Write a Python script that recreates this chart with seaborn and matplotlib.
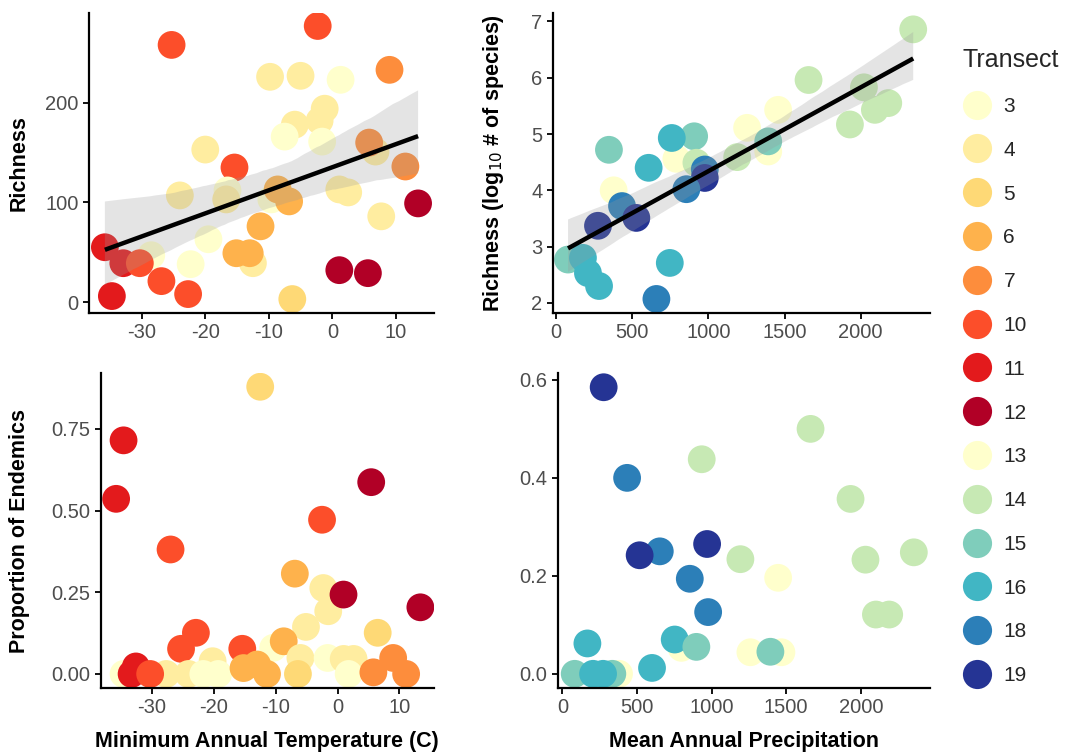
import matplotlib
matplotlib.use("Agg")
import matplotlib.pyplot as plt
import seaborn as sns
import pandas as pd
from matplotlib.lines import Line2D

# ---------------- data ----------------
transects = [3, 4, 5, 6, 7, 10, 11, 12, 13, 14, 15, 16, 18, 19]
transect_colors = ["#FFFFCC", "#FFEDA0", "#FED976", "#FEB24C", "#FD8D3C", "#FC4E2A",
                   "#E31A1C", "#B10026", "#FFFFCC", "#C7E9B4", "#7FCDBB", "#41B6C4",
                   "#2C7FB8", "#253494"]

# Panel A: minimum annual temperature vs richness
tempA = [-25.3, -2.3, -9.8, -5.0, 1.3, 9.0, -1.2, -2.0, -5.9, -7.5, -1.6, 6.8, 5.8, 11.5,
         -20.0, -15.4, -24.0, -16.5, -16.7, -9.6, -8.6, -6.8, 1.1, 2.5, 7.7, 13.5, -11.3,
         -19.5, -12.5, -15.1, -13.0, -22.3, -35.8, -28.5, -32.9, -30.3, -26.9, -22.7,
         -34.7, -6.3, 1.1, 5.6]
richA = [258, 277, 226, 227, 223, 233, 194, 182, 178, 166, 161, 151, 160, 136,
         153, 135, 107, 112, 103, 103, 113, 101, 113, 110, 86, 99, 76,
         63, 39, 49, 49, 38, 55, 47, 39, 39, 21, 8,
         6, 3, 32, 29]
transA = [10, 10, 4, 4, 3, 7, 4, 4, 4, 3, 3, 4, 7, 7,
          4, 10, 4, 3, 4, 3, 6, 6, 4, 4, 4, 12, 6,
          3, 4, 6, 6, 3, 11, 3, 11, 10, 10, 10,
          11, 5, 12, 12]

# Panel C: minimum annual temperature vs proportion of endemics
tempC = [-12.5, -34.6, -35.8, -27.0, 5.45, -2.5, -6.9, -2.3, -1.5, 0.97, 13.4, -5.1, 6.5,
         -22.9, -25.3, -15.4, -10.4, -8.7, -6.0, -1.6, 1.0, 2.6, 9.0, -20.2, -34.6,
         -27.7, -24.1, -21.7, -19.3, -15.2, -13.0, -11.4, -6.4, 1.8, 5.8, 11.1,
         -32.6, -33.3, -30.3]
endC = [0.879, 0.715, 0.536, 0.381, 0.587, 0.472, 0.307, 0.263, 0.192, 0.243, 0.204, 0.144, 0.126,
        0.126, 0.077, 0.077, 0.080, 0.100, 0.049, 0.049, 0.046, 0.046, 0.049, 0.039, 0.0,
        0.0, 0.0, 0.0, 0.0, 0.018, 0.029, 0.0, 0.0, 0.0, 0.005, 0.0,
        0.023, 0.0, 0.0]
transC = [5, 11, 11, 10, 12, 10, 6, 4, 4, 12, 12, 4, 5,
          10, 10, 10, 3, 6, 4, 3, 4, 4, 7, 4, 3,
          4, 4, 3, 3, 6, 6, 6, 5, 3, 7, 7,
          11, 11, 10]

# Panel B: mean annual precipitation vs richness (log10 # of species)
precB = [2346, 1658, 2022, 2094, 2182, 1930, 1458, 1254, 1393, 1393, 1189, 789, 906, 759,
         921, 976, 976, 855, 607, 346, 377, 432, 526, 274, 77, 175, 208, 281, 746, 658]
richB = [6.86, 5.96, 5.83, 5.43, 5.55, 5.17, 5.43, 5.11, 4.69, 4.87, 4.59, 4.56, 4.96, 4.93,
         4.49, 4.37, 4.22, 4.02, 4.40, 4.72, 4.00, 3.72, 3.51, 3.37, 2.77, 2.80, 2.53, 2.30,
         2.71, 2.07]
transB = [14, 14, 14, 14, 14, 14, 13, 13, 13, 15, 14, 13, 15, 16,
          14, 18, 19, 18, 16, 15, 13, 18, 19, 19, 15, 16, 16, 16, 16, 18]

# Panel D: mean annual precipitation vs proportion of endemics
precD = [277, 1663, 934, 434, 1931, 970, 653, 518, 1193, 2031, 2355, 1446, 854, 977, 2101,
         2190, 168, 798, 753, 898, 1260, 1468, 1394, 601, 380, 335, 83, 206, 273]
endD = [0.585, 0.500, 0.438, 0.400, 0.357, 0.265, 0.250, 0.242, 0.234, 0.233, 0.248, 0.196,
        0.194, 0.126, 0.121, 0.121, 0.062, 0.053, 0.070, 0.055, 0.044, 0.044, 0.045, 0.012,
        0.0, 0.0, 0.0, 0.0, 0.0]
transD = [19, 14, 14, 18, 14, 19, 18, 19, 14, 14, 14, 13, 18, 18, 14,
          14, 16, 13, 16, 15, 13, 13, 15, 16, 13, 15, 15, 16, 16]

xticksA = [-30, -20, -10, 0, 10]
yticksA = [0, 100, 200]
xticksB = [0, 500, 1000, 1500, 2000]
yticksB = [2, 3, 4, 5, 6, 7]
yticksC = [0.0, 0.25, 0.5, 0.75]
yticklabelsC = ["0.00", "0.25", "0.50", "0.75"]
yticksD = [0.0, 0.2, 0.4, 0.6]
yticklabelsD = ["0.0", "0.2", "0.4", "0.6"]

# ---------------- style ----------------
sns.set_theme(style="ticks")
plt.rcParams['font.family'] = ['Liberation Sans', 'DejaVu Sans']
plt.rcParams['axes.unicode_minus'] = False

labels = [str(t) for t in transects]
palette = dict(zip(labels, transect_colors))

fig = plt.figure(figsize=(10.71, 7.53), dpi=100)
axA = fig.add_axes([0.0831, 0.5843, 0.3221, 0.3984])
axB = fig.add_axes([0.5163, 0.5843, 0.3520, 0.3984])
axC = fig.add_axes([0.0940, 0.0863, 0.3112, 0.4183])
axD = fig.add_axes([0.5210, 0.0863, 0.3473, 0.4183])

PT_SIZE = 400


def panel(ax, x, y, t, fit):
    df = pd.DataFrame({"x": x, "y": y, "t": [str(v) for v in t]})
    sns.scatterplot(data=df, x="x", y="y", hue="t", palette=palette, hue_order=labels,
                    s=PT_SIZE, linewidth=0, alpha=1, legend=False, ax=ax)
    if fit:
        n_before = len(ax.collections)
        sns.regplot(data=df, x="x", y="y", scatter=False, color="black", ax=ax,
                    seed=7, line_kws={"linewidth": 3.2, "solid_capstyle": "butt"})
        for coll in ax.collections[n_before:]:
            coll.set_facecolor("#999999")
            coll.set_edgecolor("none")
            coll.set_alpha(0.26)


panel(axA, tempA, richA, transA, True)
panel(axB, precB, richB, transB, True)
panel(axC, tempC, endC, transC, False)
panel(axD, precD, endD, transD, False)

axA.set_xlim(-38.3, 16.0)
axA.set_ylim(-11, 290)
axB.set_xlim(-22, 2456)
axB.set_ylim(1.82, 7.15)
axC.set_xlim(-38.3, 15.6)
axC.set_ylim(-0.043, 0.921)
axD.set_xlim(-29, 2463)
axD.set_ylim(-0.029, 0.614)

axA.set_xticks(xticksA)
axA.set_xticklabels([str(v) for v in xticksA])
axA.set_yticks(yticksA)
axA.set_yticklabels([str(v) for v in yticksA])
axC.set_xticks(xticksA)
axC.set_xticklabels([str(v) for v in xticksA])
axC.set_yticks(yticksC)
axC.set_yticklabels(yticklabelsC)
axB.set_xticks(xticksB)
axB.set_xticklabels([str(v) for v in xticksB])
axB.set_yticks(yticksB)
axB.set_yticklabels([str(v) for v in yticksB])
axD.set_xticks(xticksB)
axD.set_xticklabels([str(v) for v in xticksB])
axD.set_yticks(yticksD)
axD.set_yticklabels(yticklabelsD)

title_kw = dict(fontsize=15.5, fontweight="bold", color="black")
axA.set_xlabel("")
axB.set_xlabel("")
axA.set_ylabel("Richness", **title_kw)
axB.set_ylabel(r"Richness (log$_{10}$ # of species)", **title_kw)
axC.set_ylabel("Proportion of Endemics", **title_kw)
axD.set_ylabel("")
axC.set_xlabel("Minimum Annual Temperature (C)", **title_kw)
axD.set_xlabel("Mean Annual Precipitation", **title_kw)

axA.yaxis.set_label_coords(-0.171, 0.5)
axB.yaxis.set_label_coords(-0.125, 0.5)
axC.yaxis.set_label_coords(-0.212, 0.5)
axC.xaxis.set_label_coords(0.5, -0.135)
axD.xaxis.set_label_coords(0.5, -0.135)

for ax in (axA, axB, axC, axD):
    for side in ("top", "right"):
        ax.spines[side].set_visible(False)
    for side in ("left", "bottom"):
        ax.spines[side].set_linewidth(1.6)
        ax.spines[side].set_color("black")
    ax.tick_params(axis="both", which="major", labelsize=14.5, labelcolor="#4D4D4D",
                   color="black", length=4.5, width=1.3, pad=3)
    ax.grid(False)

handles = [Line2D([], [], marker="o", linestyle="", markersize=21,
                  markerfacecolor=c, markeredgewidth=0) for c in transect_colors]
leg = fig.legend(handles, labels, title="Transect", loc="upper left",
                 bbox_to_anchor=(0.899, 0.936), frameon=False, fontsize=15,
                 title_fontsize=18, borderpad=0, borderaxespad=0,
                 handlelength=1.4, handletextpad=0.55, labelspacing=1.19,
                 alignment="left")

fig.savefig("out.png", dpi=100)
